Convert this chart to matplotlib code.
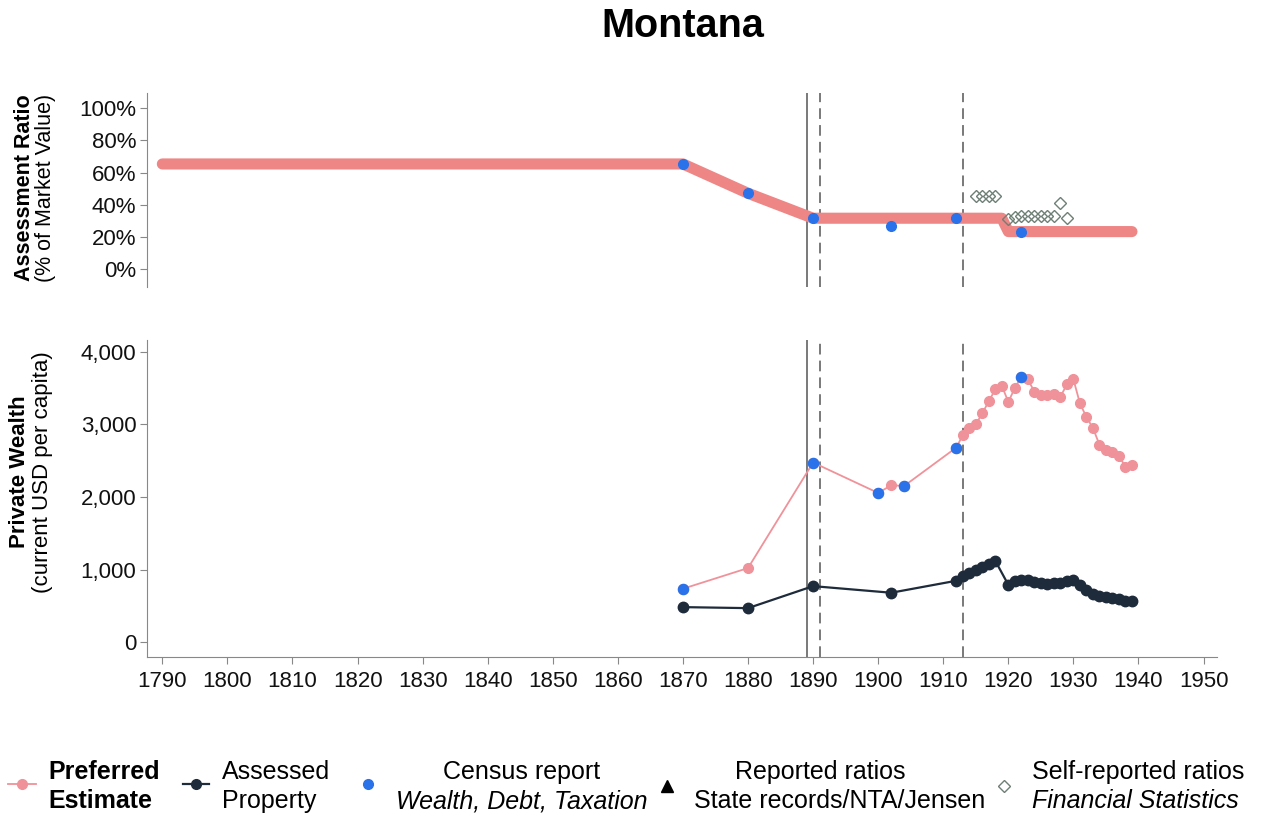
import numpy as np
import matplotlib.pyplot as plt
from matplotlib.lines import Line2D

plt.rcParams['font.family'] = ['Liberation Sans', 'DejaVu Sans']

# ---- data ----
# top panel: preferred assessment ratio (% of market value)
ratio_years = [1790, 1870, 1880, 1890, 1919, 1920, 1939]
ratio_pref = [65.4, 65.4, 47.2, 31.7, 31.7, 23.4, 23.4]

# census report ratios
ratio_census_years = [1870, 1880, 1890, 1902, 1912, 1922]
ratio_census = [65.4, 47.2, 31.7, 26.9, 31.7, 23.4]

# self-reported ratios (Financial Statistics)
selfrep_years = [1915, 1916, 1917, 1918, 1920, 1921, 1922, 1923, 1924, 1925, 1926, 1927, 1928, 1929]
selfrep_vals = [45.5, 45.5, 45.5, 45.5, 31.0, 32.5, 33.0, 33.0, 33.0, 33.0, 33.0, 33.0, 41.0, 32.0]

# bottom panel: private wealth, current USD per capita
pref_years = [1870, 1880, 1890, 1900, 1902, 1904, 1912,
              1913, 1914, 1915, 1916, 1917, 1918, 1919, 1920, 1921, 1922, 1923,
              1924, 1925, 1926, 1927, 1928, 1929, 1930, 1931, 1932, 1933, 1934,
              1935, 1936, 1937, 1938, 1939]
pref_wealth = [736, 1021, 2474, 2055, 2161, 2152, 2680,
               2850, 2950, 3000, 3150, 3320, 3480, 3530, 3310, 3500, 3655, 3620,
               3450, 3400, 3400, 3420, 3380, 3550, 3620, 3290, 3100, 2950, 2720,
               2650, 2620, 2570, 2410, 2440]

assessed_years = [1870, 1880, 1890, 1902, 1912,
                  1913, 1914, 1915, 1916, 1917, 1918, 1920, 1921, 1922, 1923,
                  1924, 1925, 1926, 1927, 1928, 1929, 1930, 1931, 1932, 1933,
                  1934, 1935, 1936, 1937, 1938, 1939]
assessed_wealth = [483, 469, 772, 681, 846,
                   910, 950, 990, 1030, 1080, 1120, 790, 840, 860, 860,
                   830, 810, 800, 810, 810, 840, 860, 790, 720, 660,
                   630, 620, 610, 590, 570, 570]

census_years = [1870, 1890, 1900, 1904, 1912, 1922]
census_wealth = [736, 2474, 2055, 2152, 2680, 3655]

# reference lines
solid_year = 1889
dashed_years = [1891, 1913]

x_ticks = np.arange(1790, 1951, 10)

pink = '#f0929a'
pink_thick = '#ef8686'
blue = '#2a72ea'
navy = '#1e2b3b'
diamond_col = '#6e7f76'
vline_col = '#555555'
spine_col = '#888888'

W, H = 1267, 816
fig = plt.figure(figsize=(W / 100, H / 100), dpi=100)


def fx(px):
    return px / W


def fy(py):
    return 1 - py / H


ax1 = fig.add_axes([0.1158, 0.6487, 0.8444, 0.237])
ax2 = fig.add_axes([0.1158, 0.1952, 0.8444, 0.388])

for ax in (ax1, ax2):
    ax.set_xlim(1787.6, 1952)
    for s in ['top', 'right']:
        ax.spines[s].set_visible(False)
    ax.spines['left'].set_color(spine_col)
    ax.spines['bottom'].set_color(spine_col)
    ax.tick_params(axis='both', labelsize=16, length=5, width=0.8,
                   color=spine_col, pad=2.5, labelcolor='#111111')
    ax.axvline(solid_year, color=vline_col, lw=1.1, zorder=1)
    for d in dashed_years:
        ax.axvline(d, color=vline_col, lw=1.1, ls=(0, (7, 4)), zorder=1)

# top panel
ax1.plot(ratio_years, ratio_pref, color=pink_thick, lw=8, solid_capstyle='round',
         solid_joinstyle='round', zorder=2)
ax1.plot(ratio_census_years, ratio_census, 'o', color=blue, ms=7, mec=blue, zorder=4)
ax1.plot(selfrep_years, selfrep_vals, 'D', mfc='none', mec=diamond_col, ms=6.5,
         mew=1.0, zorder=5)
ax1.set_ylim(-10.8, 109.3)
ax1.set_yticks([0, 20, 40, 60, 80, 100])
ax1.set_yticklabels([f'{v}%' for v in [0, 20, 40, 60, 80, 100]])
ax1.spines['bottom'].set_visible(False)
ax1.tick_params(axis='x', bottom=False, labelbottom=False)

# bottom panel
ax2.plot(pref_years, pref_wealth, '-o', color=pink, lw=1.3, ms=7, mec=pink, zorder=2)
ax2.plot(assessed_years, assessed_wealth, '-o', color=navy, lw=1.6, ms=7.5, mec=navy, zorder=3)
ax2.plot(census_years, census_wealth, 'o', color=blue, ms=7.3, mec=blue, zorder=4)
ax2.set_ylim(-200, 4160)
ax2.set_yticks([0, 1000, 2000, 3000, 4000])
ax2.set_yticklabels([f'{v:,}' for v in [0, 1000, 2000, 3000, 4000]])
ax2.set_xticks(x_ticks)
ax2.tick_params(axis='x', pad=5)

# titles and axis labels
fig.text(fx(683), fy(26), 'Montana', ha='center', va='center', fontsize=28.5, fontweight='bold')
fig.text(fx(24), fy(188), 'Assessment Ratio', rotation=90, ha='center', va='center',
         fontsize=15.5, fontweight='bold')
fig.text(fx(46), fy(188), '(% of Market Value)', rotation=90, ha='center', va='center',
         fontsize=15.5)
fig.text(fx(20), fy(472), 'Private Wealth', rotation=90, ha='center', va='center',
         fontsize=16, fontweight='bold')
fig.text(fx(43), fy(472), '(current USD per capita)', rotation=90, ha='center', va='center',
         fontsize=16)

# legend
lf = 18
l1, l2 = 772, 801
fig.add_artist(Line2D([fx(8), fx(36)], [fy(784), fy(784)], transform=fig.transFigure,
                      color=pink, lw=1.3, marker=None))
fig.add_artist(Line2D([fx(22)], [fy(784)], transform=fig.transFigure,
                      color=pink, marker='o', ms=7, ls='none'))
fig.text(fx(48), fy(l1), 'Preferred', ha='left', va='center', fontsize=lf, fontweight='bold')
fig.text(fx(48), fy(l2), 'Estimate', ha='left', va='center', fontsize=lf, fontweight='bold')

fig.add_artist(Line2D([fx(183), fx(209)], [fy(784), fy(784)], transform=fig.transFigure,
                      color=navy, lw=1.6))
fig.add_artist(Line2D([fx(196)], [fy(784)], transform=fig.transFigure,
                      color=navy, marker='o', ms=7, ls='none'))
fig.text(fx(222), fy(l1), 'Assessed', ha='left', va='center', fontsize=lf)
fig.text(fx(222), fy(l2), 'Property', ha='left', va='center', fontsize=lf)

fig.add_artist(Line2D([fx(368)], [fy(784)], transform=fig.transFigure,
                      color=blue, marker='o', ms=7, ls='none'))
fig.text(fx(522), fy(l1), 'Census report', ha='center', va='center', fontsize=lf)
fig.text(fx(522), fy(l2), 'Wealth, Debt, Taxation', ha='center', va='center',
         fontsize=lf, style='italic')

fig.add_artist(Line2D([fx(667)], [fy(786)], transform=fig.transFigure,
                      color='black', marker='^', ms=8, ls='none'))
fig.text(fx(820), fy(l1), 'Reported ratios', ha='center', va='center', fontsize=lf)
fig.text(fx(840), fy(l2), 'State records/NTA/Jensen', ha='center', va='center', fontsize=lf)

fig.add_artist(Line2D([fx(1004)], [fy(786)], transform=fig.transFigure,
                      color=diamond_col, marker='D', ms=6.5, mfc='none', mew=1.0, ls='none'))
fig.text(fx(1032), fy(l1), 'Self-reported ratios', ha='left', va='center', fontsize=lf)
fig.text(fx(1032), fy(l2), 'Financial Statistics', ha='left', va='center', fontsize=lf,
         style='italic')

fig.savefig('out.png', dpi=100)
